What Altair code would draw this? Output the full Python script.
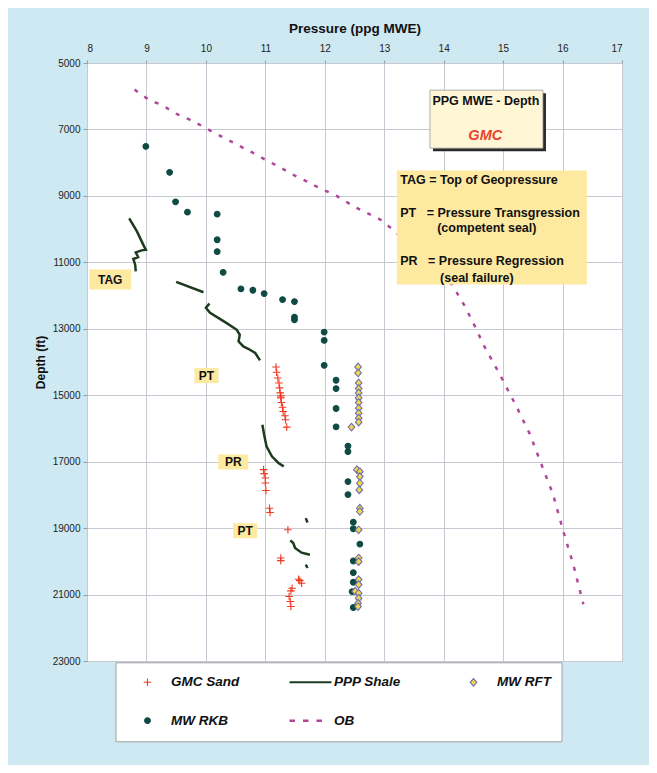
import altair as alt
import pandas as pd

# ---------------- data ----------------
series_names = ["GMC Sand", "PPP Shale", "MW RFT", "MW RKB", "OB"]

gmc_ppg = [11.18, 11.19, 11.21, 11.23, 11.24, 11.25, 11.26, 11.26, 11.27, 11.29, 11.30, 11.33, 11.34, 11.36,
           10.97, 10.98, 11.00, 11.00, 11.01, 11.07, 11.08, 11.38, 11.26, 11.26,
           11.56, 11.58, 11.61, 11.45, 11.43, 11.40, 11.42, 11.43]
gmc_depth = [14150, 14310, 14480, 14630, 14780, 14930, 15020, 15080, 15220, 15360, 15490, 15620, 15740, 15960,
             17240, 17360, 17490, 17640, 17870, 18400, 18530, 19050, 19900, 19980,
             20540, 20580, 20660, 20810, 20890, 21060, 21210, 21360]

rkb_ppg = [8.99, 9.39, 9.49, 9.69, 10.19, 10.19, 10.19, 10.29, 10.59, 10.79, 10.98, 11.29, 11.49, 11.49, 11.49,
           11.99, 11.99, 11.99, 12.19, 12.19, 12.19, 12.19, 12.39, 12.39, 12.39, 12.39, 12.48, 12.48, 12.59,
           12.48, 12.48, 12.48, 12.46, 12.48]
rkb_depth = [7510, 8290, 9180, 9490, 9550, 10320, 10680, 11300, 11800, 11840, 11940, 12120, 12180, 12650, 12730,
             13100, 13350, 14100, 14550, 14800, 15400, 15950, 16530, 16700, 17600, 17990, 18820, 19020, 19480,
             19990, 20340, 20630, 20910, 21390]

rft_ppg = [12.56, 12.56, 12.57, 12.57, 12.57, 12.57, 12.57, 12.57, 12.57, 12.57, 12.57, 12.45,
           12.54, 12.59, 12.59, 12.59, 12.58, 12.59, 12.59, 12.57, 12.57, 12.57, 12.57, 12.57, 12.51,
           12.57, 12.57, 12.56, 12.56]
rft_depth = [14150, 14330, 14630, 14800, 14930, 15080, 15220, 15390, 15540, 15690, 15810, 15960,
             17240, 17300, 17450, 17650, 17850, 18400, 18500, 19050, 19900, 20010, 20550, 20700, 20900,
             20960, 21110, 21260, 21360]

shale_seg = [1, 1, 1, 1, 1, 1, 1, 1, 1, 1,
             2, 2,
             3, 3, 3, 3, 3, 3, 3, 3, 3, 3, 3,
             4, 4, 4, 4, 4, 4,
             5, 5,
             6, 6, 6, 6, 6,
             7, 7]
shale_ppg = [8.71, 8.84, 8.96, 8.99, 8.92, 8.82, 8.86, 8.78, 8.81, 8.82,
             9.50, 9.96,
             10.06, 10.00, 10.07, 10.35, 10.52, 10.57, 10.55, 10.63, 10.72, 10.83, 10.91,
             10.95, 10.98, 11.02, 11.11, 11.22, 11.31,
             11.68, 11.71,
             11.42, 11.47, 11.50, 11.61, 11.75,
             11.68, 11.71]
shale_depth = [9680, 10070, 10520, 10620, 10640, 10700, 10840, 10900, 11070, 11270,
               11590, 11900,
               12240, 12370, 12520, 12830, 13030, 13180, 13380, 13530, 13610, 13730, 13950,
               15890, 16190, 16540, 16840, 17040, 17140,
               18700, 18830,
               19370, 19450, 19600, 19740, 19800,
               20100, 20200]

ob_ppg = [8.80, 9.05, 9.27, 9.49, 9.72, 9.94, 10.14, 10.36, 10.59, 10.81, 11.01, 11.24, 11.43, 11.66,
          11.85, 12.20, 12.50, 12.93, 13.15, 13.60, 14.14, 14.35, 14.56, 14.66, 14.94, 15.23, 15.45,
          15.62, 15.84, 16.01, 16.18, 16.35]
ob_depth = [5800, 6120, 6270, 6520, 6700, 6900, 7100, 7300, 7520, 7720, 7920, 8130, 8330, 8530,
            8710, 9000, 9330, 9710, 10015, 10800, 11670, 12300, 13050, 13450, 14360, 15360, 16170,
            16970, 17980, 19080, 20090, 21290]

label_text = ["TAG", "PT", "PR", "PT"]
label_ppg = [8.39, 10.01, 10.46, 10.66]
label_depth = [11520, 14410, 17010, 19080]

title_lines = ["PPG MWE - Depth", "GMC"]
title_ppg = [14.71, 14.70]
title_depth = [6150, 7200]
title_box_ppg = [14.72]
title_box_depth = [6690]

key_lines = ["TAG = Top of Geopressure",
             "PT\u00a0\u00a0\u00a0= Pressure Transgression",
             "(competent seal)",
             "PR\u00a0\u00a0\u00a0= Pressure Regression",
             "(seal failure)"]
key_ppg = [13.27, 13.27, 13.89, 13.27, 13.94]
key_depth = [8510, 9500, 9965, 10970, 11470]
key_box_ppg = [14.81]
key_box_depth = [9950]

# ---------------- styles ----------------
FONT = "Liberation Sans"
BG = "#cfe9f2"
YELLOW = "#fde9a0"

# symbol paths in the unit square (scaled by sqrt(size)/2 = 21 px). Zero-length end segments
# give every legend symbol the same 42 px footprint without drawing anything.
PAD = "M-1,0L-1,0M1,0L1,0"
shape_paths = [
    PAD + "M-0.18,0H0.18M0,-0.18V0.18",
    "M-1,-0.05H1V0.05H-1Z",
    PAD + "M0,-0.18L0.157,0L0,0.18L-0.157,0Z",
    PAD + "M-0.136,0A0.136,0.136,0,1,0,0.136,0A0.136,0.136,0,1,0,-0.136,0Z",
    PAD + "M-1,-0.057H-0.738V0.057H-1ZM-0.357,-0.057H-0.095V0.057H-0.357ZM0.286,-0.057H0.548V0.057H0.286Z",
]
fill_colors = ["transparent", "#1d3b1f", "#f5d64c", "#0f4a44", "#b0479b"]
stroke_colors = ["#f03a22", "transparent", "#6c6fae", "#0f4a44", "transparent"]

# ---------------- frames ----------------
points_df = pd.concat([
    pd.DataFrame({"series": "GMC Sand", "ppg": gmc_ppg, "depth": gmc_depth}),
    pd.DataFrame({"series": "MW RKB", "ppg": rkb_ppg, "depth": rkb_depth}),
    pd.DataFrame({"series": "MW RFT", "ppg": rft_ppg, "depth": rft_depth}),
], ignore_index=True)

shale_df = pd.DataFrame({"seg": shale_seg, "ppg": shale_ppg, "depth": shale_depth})
shale_df["idx"] = range(len(shale_df))
ob_df = pd.DataFrame({"ppg": ob_ppg, "depth": ob_depth})
ob_df["idx"] = range(len(ob_df))

labels_df = pd.DataFrame({"text": label_text, "ppg": label_ppg, "depth": label_depth})
title_df = pd.DataFrame({"text": title_lines, "ppg": title_ppg, "depth": title_depth})
title_box_df = pd.DataFrame({"ppg": title_box_ppg, "depth": title_box_depth})
key_df = pd.DataFrame({"text": key_lines, "ppg": key_ppg, "depth": key_depth})
key_box_df = pd.DataFrame({"ppg": key_box_ppg, "depth": key_box_depth})

X = alt.X("ppg:Q",
          scale=alt.Scale(domain=[8, 17], nice=False, zero=False),
          axis=alt.Axis(orient="top", title="Pressure (ppg MWE)", values=list(range(8, 18)),
                        tickSize=3, labelPadding=7, titleFontSize=13.5, titlePadding=8))
Y = alt.Y("depth:Q",
          scale=alt.Scale(domain=[5000, 23000], reverse=True, nice=False, zero=False),
          axis=alt.Axis(title="Depth (ft)", values=list(range(5000, 23001, 2000)), format="d",
                        tickSize=4, labelPadding=3, titleFontSize=12, titlePadding=5))

ob = alt.Chart(ob_df).mark_line(color="#b0479b", strokeWidth=2.5, strokeDash=[4, 8]).encode(
    x=X, y=Y, order="idx:Q")
shale = alt.Chart(shale_df).mark_line(color="#1d3b1f", strokeWidth=2.5).encode(
    x=X, y=Y, detail="seg:N", order="idx:Q")

points = alt.Chart(points_df).mark_point(filled=True, size=1764, opacity=1, strokeWidth=1.1).encode(
    x=X, y=Y,
    shape=alt.Shape("series:N", scale=alt.Scale(domain=series_names, range=shape_paths),
                    legend=alt.Legend(title=None)),
    fill=alt.Fill("series:N", scale=alt.Scale(domain=series_names, range=fill_colors),
                  legend=alt.Legend(title=None)),
    stroke=alt.Stroke("series:N", scale=alt.Scale(domain=series_names, range=stroke_colors),
                      legend=alt.Legend(title=None)),
)

label_sizes = {"TAG": (42, 20), "PT": (24, 15), "PR": (30, 15)}
label_layers = []
for i, t in enumerate(label_text):
    w, h = label_sizes[t]
    label_layers.append(
        alt.Chart(labels_df.iloc[[i]]).mark_rect(width=w, height=h, align="center", baseline="middle",
                                                 fill=YELLOW).encode(x=X, y=Y))
label_txt = alt.Chart(labels_df).mark_text(font=FONT, fontSize=12, fontWeight="bold", color="#111").encode(
    x=X, y=Y, text="text:N")

title_shadow = alt.Chart(title_box_df).mark_rect(width=113, height=58, align="center", baseline="middle",
                                                 xOffset=3, yOffset=3, fill="#2a2a2a").encode(x=X, y=Y)
title_box = alt.Chart(title_box_df).mark_rect(width=113, height=58, align="center", baseline="middle",
                                              fill="#fff6d6", stroke="#999999", strokeWidth=0.8).encode(x=X, y=Y)
title_txt1 = alt.Chart(title_df.iloc[[0]]).mark_text(font=FONT, fontSize=12.5, fontWeight="bold",
                                                    color="#111").encode(x=X, y=Y, text="text:N")
title_txt2 = alt.Chart(title_df.iloc[[1]]).mark_text(font=FONT, fontSize=14.5, fontWeight="bold",
                                                    fontStyle="italic", color="#e8452c").encode(
    x=X, y=Y, text="text:N")

key_box = alt.Chart(key_box_df).mark_rect(width=190, height=114, align="center", baseline="middle",
                                          fill=YELLOW).encode(x=X, y=Y)
key_txt = alt.Chart(key_df).mark_text(font=FONT, fontSize=12.5, fontWeight="bold", color="#111",
                                      align="left", baseline="middle").encode(x=X, y=Y, text="text:N")

chart = alt.layer(
    ob, shale, points, *label_layers, label_txt,
    title_shadow, title_box, title_txt1, title_txt2, key_box, key_txt
).properties(
    width=535, height=598,
    autosize=alt.AutoSizeParams(type="none"),
    padding={"left": 79, "top": 55, "right": 27, "bottom": 104},
    background=BG,
).configure_view(
    stroke="#9a9a9a", strokeWidth=1, fill="white"
).configure_axis(
    grid=True, gridColor="#c6c9d1", gridWidth=1, domain=False, tickColor="#9a9a9a",
    labelFont=FONT, labelFontSize=10, labelColor="#222",
    titleFont=FONT, titleFontWeight="bold", titleColor="#111"
).configure_legend(
    orient="none", legendX=28.5, legendY=599.3, direction="horizontal", columns=3, gridAlign="all",
    clipHeight=20, rowPadding=18.4, columnPadding=49, symbolSize=1764, symbolStrokeWidth=1.1,
    labelOffset=1.5, labelFont=FONT, labelFontSize=13.5, labelFontWeight="bold",
    labelFontStyle="italic", labelColor="#111", labelLimit=200,
    padding=10, fillColor="white", strokeColor="#a0a0a0"
)

chart.save("out.html", embed_options={"renderer": "svg", "actions": False})
